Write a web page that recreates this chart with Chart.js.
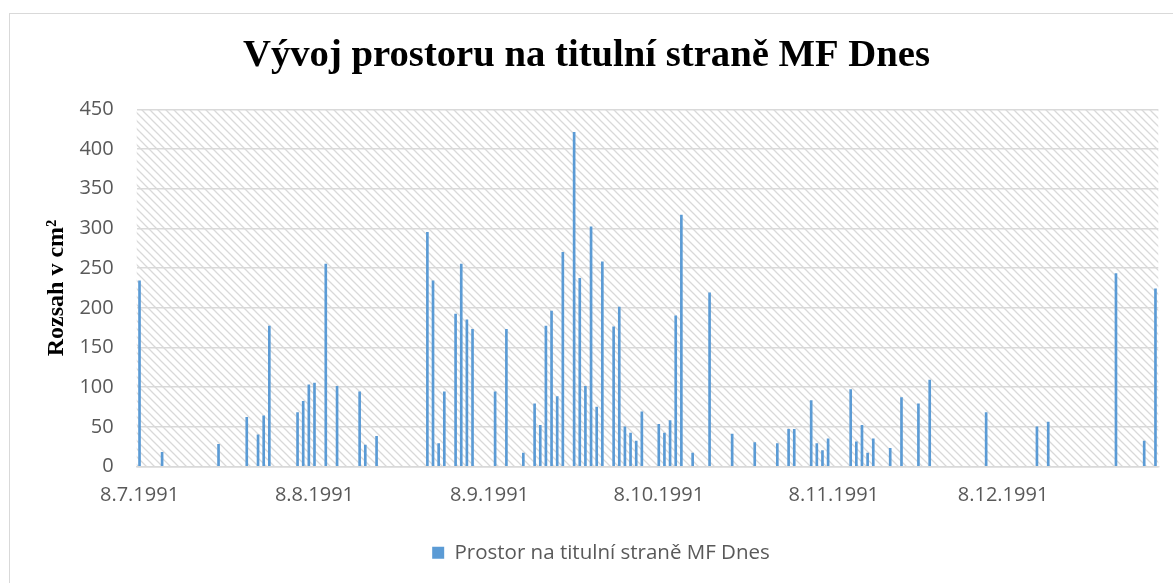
<!DOCTYPE html>
<html>
<head>
<meta charset="utf-8">
<script src="https://cdn.jsdelivr.net/npm/chart.js"></script>
<style>
  html, body { margin: 0; padding: 0; background: #fff; }
</style>
</head>
<body>
<canvas id="space-chart" width="1173" height="583"></canvas>
<script>
// first and last day shown on the date axis
const firstDay = '8.7.1991';
const lastDay = '4.1.1992';

// days with an article on the front page and its size in cm2
const barDates = [
  '8.7.1991', '12.7.1991', '22.7.1991', '27.7.1991', '29.7.1991', '30.7.1991', '31.7.1991',
  '5.8.1991', '6.8.1991', '7.8.1991', '8.8.1991', '10.8.1991', '12.8.1991', '16.8.1991',
  '17.8.1991', '19.8.1991', '28.8.1991', '29.8.1991', '30.8.1991', '31.8.1991',
  '2.9.1991', '3.9.1991', '4.9.1991', '5.9.1991', '9.9.1991', '11.9.1991', '14.9.1991',
  '16.9.1991', '17.9.1991', '18.9.1991', '19.9.1991', '20.9.1991', '21.9.1991', '23.9.1991',
  '24.9.1991', '25.9.1991', '26.9.1991', '27.9.1991', '28.9.1991', '30.9.1991',
  '1.10.1991', '2.10.1991', '3.10.1991', '4.10.1991', '5.10.1991', '8.10.1991', '9.10.1991',
  '10.10.1991', '11.10.1991', '12.10.1991', '14.10.1991', '17.10.1991', '21.10.1991',
  '25.10.1991', '29.10.1991', '31.10.1991',
  '1.11.1991', '4.11.1991', '5.11.1991', '6.11.1991', '7.11.1991', '11.11.1991', '12.11.1991',
  '13.11.1991', '14.11.1991', '15.11.1991', '18.11.1991', '20.11.1991', '23.11.1991', '25.11.1991',
  '5.12.1991', '14.12.1991', '16.12.1991', '28.12.1991', '2.1.1992', '4.1.1992'
];
const barValues = [
  234, 18, 28, 62, 40, 64, 177,
  68, 82, 103, 105, 255, 101, 94,
  27, 38, 295, 234, 29, 94,
  192, 255, 185, 173, 94, 173, 17,
  79, 52, 177, 196, 88, 270, 421,
  237, 101, 302, 75, 258, 176,
  201, 50, 42, 32, 69, 53, 42,
  58, 190, 317, 17, 219, 41,
  30, 29, 47,
  47, 83, 29, 20, 35, 97, 31,
  52, 17, 35, 23, 87, 79, 109,
  68, 50, 56, 243, 32, 224
];

const tickLabels = ['8.7.1991', '8.8.1991', '8.9.1991', '8.10.1991', '8.11.1991', '8.12.1991'];
const yTicks = [0, 50, 100, 150, 200, 250, 300, 350, 400, 450];

const seriesName = 'Prostor na titulní straně MF Dnes';
const chartTitle = 'Vývoj prostoru na titulní straně MF Dnes';
const axisTitle = 'Rozsah v cm²';

function parseDay(s) {
  const p = s.split('.');
  return new Date(+p[2], +p[1] - 1, +p[0]);
}

// one category per calendar day
const dayLabels = [];
for (let d = parseDay(firstDay); d <= parseDay(lastDay); d.setDate(d.getDate() + 1)) {
  dayLabels.push(d.getDate() + '.' + (d.getMonth() + 1) + '.' + d.getFullYear());
}
const dayValues = dayLabels.map(l => {
  const i = barDates.indexOf(l);
  return i >= 0 ? barValues[i] : null;
});

const framePlugin = {
  id: 'frame',
  afterLayout(chart) {
    // legend sits a bit right of the centre, like in Excel
    chart.legend.left += 14.5;
    chart.legend.right += 14.5;
  },
  beforeDraw(chart) {
    const c = chart.ctx;
    const a = chart.chartArea;
    const tile = document.createElement('canvas');
    tile.width = 8;
    tile.height = 8;
    const t = tile.getContext('2d');
    t.strokeStyle = '#d9d9d9';
    t.lineWidth = 1.3;
    t.beginPath();
    t.moveTo(-2, -2); t.lineTo(10, 10);
    t.moveTo(-2, 6); t.lineTo(2, 10);
    t.moveTo(6, -2); t.lineTo(10, 2);
    t.stroke();
    c.save();
    c.fillStyle = c.createPattern(tile, 'repeat');
    c.fillRect(a.left, a.top, a.right - a.left, a.bottom - a.top);
    c.strokeStyle = '#d9d9d9';
    c.lineWidth = 1;
    c.strokeRect(9.5, 13.5, 1300, 700);
    c.restore();
  }
};

const tickFont = { family: "'Open Sans'", size: 20 };
const ctx = document.getElementById('space-chart').getContext('2d');

new Chart(ctx, {
  type: 'bar',
  data: {
    labels: dayLabels,
    datasets: [{
      label: seriesName,
      data: dayValues,
      backgroundColor: '#5B9BD5',
      barThickness: 2
    }]
  },
  options: {
    responsive: false,
    animation: false,
    layout: { padding: { left: 14.7, right: 14.7, top: 33, bottom: 10 } },
    plugins: {
      title: {
        display: true,
        text: chartTitle,
        color: '#000',
        font: { family: "'Liberation Serif'", size: 38.7, weight: 'bold' },
        padding: { top: 0, bottom: 30 }
      },
      legend: {
        position: 'bottom',
        labels: {
          boxWidth: 12,
          boxHeight: 12,
          color: '#595959',
          font: { family: "'Open Sans'", size: 20.5 },
          padding: 10
        }
      },
      tooltip: { enabled: false }
    },
    scales: {
      x: {
        afterFit: s => { s.height += 15; },
        ticks: {
          autoSkip: false,
          maxRotation: 0,
          minRotation: 0,
          padding: 10,
          color: '#595959',
          font: tickFont,
          callback: function (value) {
            const l = this.getLabelForValue(value);
            return tickLabels.includes(l) ? l : null;
          }
        },
        grid: {
          offset: true,
          drawOnChartArea: false,
          tickLength: 7,
          lineWidth: 1.5,
          color: c => tickLabels.includes(dayLabels[c.index]) ? '#d9d9d9' : 'rgba(0,0,0,0)'
        },
        border: { color: '#d9d9d9', width: 1.5 }
      },
      y: {
        min: 0,
        max: 450,
        afterBuildTicks: s => { s.ticks = yTicks.map(v => ({ value: v })); },
        afterFit: s => { s.width = 122; },
        ticks: { padding: 23, color: '#595959', font: tickFont },
        grid: { color: '#d9d9d9', lineWidth: 1.5, drawTicks: false },
        border: { display: false },
        title: {
          display: true,
          text: axisTitle,
          color: '#000',
          font: { family: "'Liberation Serif'", size: 24, weight: 'bold' },
          padding: { top: 28, bottom: 0 }
        }
      }
    }
  },
  plugins: [framePlugin]
});
</script>
</body>
</html>
